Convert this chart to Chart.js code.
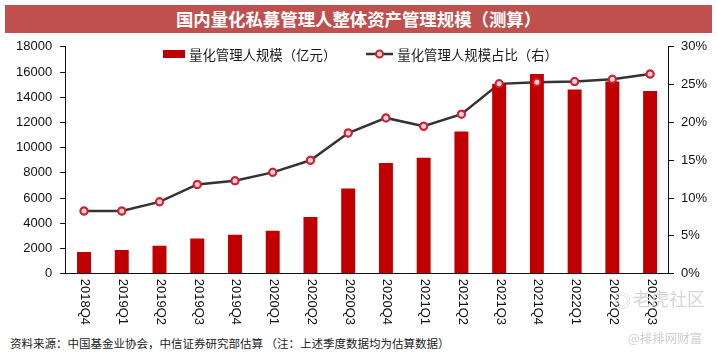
<!DOCTYPE html>
<html>
<head>
<meta charset="utf-8">
<script src="https://cdn.jsdelivr.net/npm/chart.js@4.4.1/dist/chart.umd.min.js"></script>
<style>
  html, body { margin: 0; padding: 0; background: #fff; }
  body { width: 717px; height: 352px; position: relative; overflow: hidden;
         font-family: "Liberation Sans", Arial, "Noto Sans CJK SC", sans-serif; }
  #banner { position: absolute; left: 5px; top: 5px; width: 707px; height: 28px;
            background: #C0504D; color: #fff; font-weight: bold; font-size: 17.4px;
            line-height: 28px; text-align: center; font-family: "Noto Sans CJK SC", sans-serif; }
  #wrap { position: absolute; left: 0; top: 31px; width: 717px; height: 300px; }
  #legend { position: absolute; top: 45px; left: 0; width: 721px; display: flex;
            justify-content: center; font-size: 13.4px; color: #1a1a1a; line-height: 18px;
            font-family: "Noto Sans CJK SC", sans-serif; }
  #legend .item { display: flex; align-items: center; margin: 0 15px; }
  #legend canvas { margin-right: 4px; }
  #source { position: absolute; left: 10px; top: 336px; font-size: 11.5px; color: #222;
            font-family: "Noto Sans CJK SC", sans-serif; line-height: 14px; white-space: nowrap; }
  .wm { position: absolute; color: #d6d6d6; font-family: "Noto Sans CJK SC", sans-serif; white-space: nowrap; }
</style>
</head>
<body>
<div id="banner">国内量化私募管理人整体资产管理规模（测算）</div>
<div id="wrap"><canvas id="scaleChart" width="717" height="300"></canvas></div>
<div id="legend"></div>
<div class="wm" style="left:614px; top:287px; font-size:17px;">◎</div>
<div class="wm" style="left:633px; top:285px; font-size:18px;">老虎社区</div>
<div class="wm" style="left:628px; top:328px; font-size:12.5px; color:#cfcfcf;">@排排网财富</div>
<div id="source">资料来源：中国基金业协会，中信证券研究部估算 （注：上述季度数据均为估算数据）</div>
<script>
// quarters on the x axis
const quarters = ['2018Q4', '2019Q1', '2019Q2', '2019Q3', '2019Q4', '2020Q1', '2020Q2', '2020Q3',
                  '2020Q4', '2021Q1', '2021Q2', '2021Q3', '2021Q4', '2022Q1', '2022Q2', '2022Q3'];
// quant manager AUM, 100m yuan (left axis)
const quantScale = [1720, 1880, 2220, 2800, 3090, 3400, 4510, 6760,
                    8780, 9200, 11290, 15050, 15840, 14610, 15240, 14500];
// share of total, percent (right axis)
const quantShare = [8.3, 8.3, 9.5, 11.8, 12.3, 13.4, 15.0, 18.6,
                    20.6, 19.5, 21.1, 25.1, 25.3, 25.4, 25.7, 26.4];
const leftTicks = [0, 2000, 4000, 6000, 8000, 10000, 12000, 14000, 16000, 18000];
const rightTicks = [0, 5, 10, 15, 20, 25, 30];

const BAR_RED = '#C00000';
const LINE_GREY = '#333333';
const MARK_RED = '#CC2233';
const FONT = '"Liberation Sans", Arial, sans-serif';

// draw x labels turned clockwise (reading top to bottom)
const verticalLabels = {
    id: 'verticalLabels',
    afterDraw(chart) {
        const x = chart.scales.x;
        const ctx = chart.ctx;
        ctx.save();
        ctx.fillStyle = '#111';
        ctx.font = '13px ' + FONT;
        ctx.textAlign = 'left';
        ctx.textBaseline = 'middle';
        quarters.forEach((q, i) => {
            ctx.save();
            ctx.translate(x.getPixelForTick(i) + 1, x.top + 5);
            ctx.rotate(Math.PI / 2);
            ctx.fillText(q, 0, 0);
            ctx.restore();
        });
        ctx.restore();
    }
};

// line markers sit on top of the bars
const markersOnTop = {
    id: 'markersOnTop',
    afterDatasetsDraw(chart) {
        const meta = chart.getDatasetMeta(1);
        meta.data.forEach(p => p.draw(chart.ctx, chart.chartArea));
    }
};

const ctx = document.getElementById('scaleChart').getContext('2d');
const scaleChart = new Chart(ctx, {
    type: 'bar',
    data: {
        labels: quarters,
        datasets: [
            {
                label: '量化管理人规模（亿元）',
                data: quantScale,
                backgroundColor: BAR_RED,
                barPercentage: 0.37,
                categoryPercentage: 1.0,
                yAxisID: 'y',
                order: 1
            },
            {
                type: 'line',
                label: '量化管理人规模占比（右）',
                data: quantShare,
                borderColor: LINE_GREY,
                borderWidth: 2.5,
                pointRadius: 3.5,
                pointBorderWidth: 2,
                pointBorderColor: MARK_RED,
                pointBackgroundColor: '#F6D2D6',
                tension: 0,
                yAxisID: 'y1',
                order: 2
            }
        ]
    },
    options: {
        responsive: false,
        animation: false,
        devicePixelRatio: 1,
        layout: { padding: { top: 4, left: 8, right: 3, bottom: 1 } },
        plugins: {
            legend: { display: false },
            tooltip: { enabled: false }
        },
        scales: {
            x: {
                grid: { display: false, drawTicks: false },
                border: { display: true, color: '#111', width: 1 },
                ticks: {
                    color: 'rgba(0,0,0,0)',
                    font: { size: 13, family: FONT },
                    minRotation: 90,
                    maxRotation: 90,
                    padding: 5,
                    autoSkip: false
                }
            },
            y: {
                position: 'left',
                min: 0,
                max: 18000,
                afterBuildTicks: axis => { axis.ticks = leftTicks.map(v => ({ value: v })); },
                grid: { drawOnChartArea: false, drawTicks: true, tickLength: 5, color: '#111' },
                border: { display: true, color: '#111', width: 1 },
                ticks: {
                    color: '#111',
                    font: { size: 13, family: FONT },
                    padding: 8,
                    callback: v => String(v)
                }
            },
            y1: {
                position: 'right',
                min: 0,
                max: 30,
                afterBuildTicks: axis => { axis.ticks = rightTicks.map(v => ({ value: v })); },
                grid: { drawOnChartArea: false, drawTicks: true, tickLength: 5, color: '#111' },
                border: { display: true, color: '#111', width: 1 },
                ticks: {
                    color: '#111',
                    font: { size: 13, family: FONT },
                    padding: 7,
                    callback: v => v + '%'
                }
            }
        }
    },
    plugins: [verticalLabels, markersOnTop]
});

// html legend built from the datasets
function legendIcon(ds) {
    const c = document.createElement('canvas');
    const g = c.getContext('2d');
    if (ds.type === 'line') {
        c.width = 27; c.height = 12;
        g.strokeStyle = ds.borderColor; g.lineWidth = 2.5;
        g.beginPath(); g.moveTo(0, 6); g.lineTo(27, 6); g.stroke();
        g.beginPath(); g.arc(13.5, 6, 3.5, 0, Math.PI * 2);
        g.fillStyle = ds.pointBackgroundColor; g.fill();
        g.lineWidth = 2; g.strokeStyle = ds.pointBorderColor; g.stroke();
    } else {
        c.width = 22; c.height = 8;
        g.fillStyle = ds.backgroundColor; g.fillRect(0, 0, 22, 8);
    }
    return c;
}
const legendBox = document.getElementById('legend');
scaleChart.data.datasets.forEach(ds => {
    const item = document.createElement('div');
    item.className = 'item';
    item.appendChild(legendIcon(ds));
    const t = document.createElement('span');
    t.textContent = ds.label;
    item.appendChild(t);
    legendBox.appendChild(item);
});
</script>
</body>
</html>
